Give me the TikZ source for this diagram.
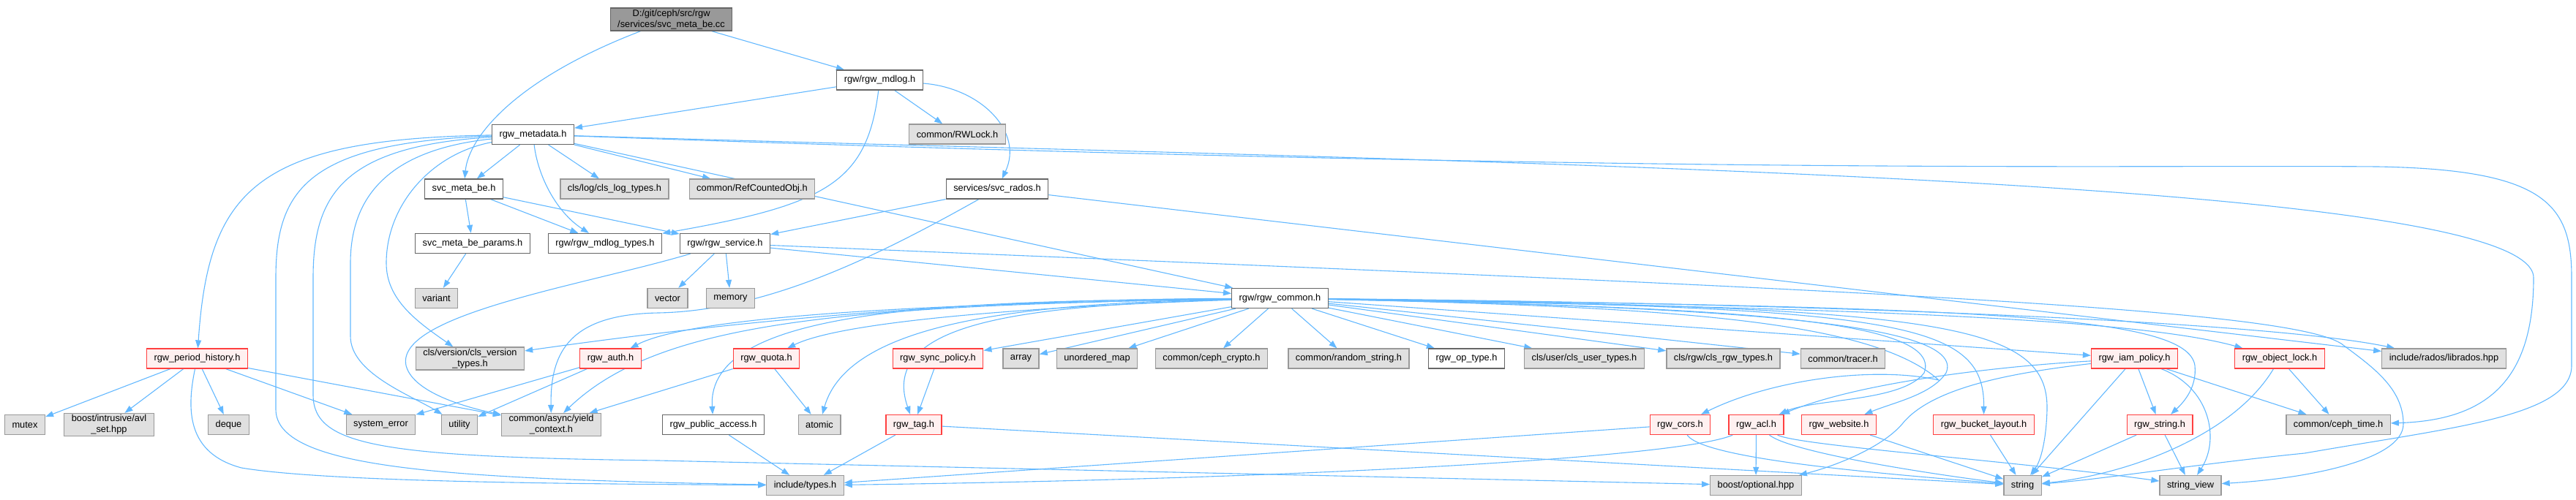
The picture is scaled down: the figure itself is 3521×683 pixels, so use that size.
\documentclass[tikz,border=0pt]{standalone}
\usepackage{fontspec}
\setmainfont{Liberation Sans}
\usepackage{tikz}
\usetikzlibrary{arrows.meta,backgrounds}
\definecolor{edgeblue}{RGB}{99,184,255}
\definecolor{fileline}{RGB}{102,102,102}
\definecolor{sysline}{RGB}{153,153,153}
\definecolor{sysfill}{RGB}{224,224,224}
\definecolor{redline}{RGB}{255,64,64}
\definecolor{redfill}{RGB}{255,240,240}
\definecolor{rootfill}{RGB}{153,153,153}
\tikzset{
  filebox/.style={draw=fileline,fill=white,line width=1.3pt,inner xsep=10pt,inner ysep=2pt,
    minimum height=27pt,align=center,font=\fontsize{12.8}{15}\selectfont},
  sysbox/.style={filebox,draw=sysline,fill=sysfill},
  redbox/.style={filebox,draw=redline,fill=redfill},
  rootbox/.style={filebox,fill=rootfill},
  dep/.style={draw=edgeblue,line width=1.1pt,-{Triangle[length=11pt,width=8pt]}}
}

\begin{document}
\begin{tikzpicture}[x=1pt,y=-1pt]
    \useasboundingbox (0,0) rectangle (3521,683);
    % files
    \node[rootbox] (root) at (917.5,26.5) {D:/git/ceph/src/rgw\\/services/svc\_meta\_be.cc};
    \node[filebox] (mdlog) at (1202.5,109.5) {rgw/rgw\_mdlog.h};
    \node[filebox] (metadata) at (728.5,184) {rgw\_metadata.h};
    \node[sysbox] (rwlock) at (1308.5,183.5) {common/RWLock.h};
    \node[filebox] (svcmetabe) at (634,258.5) {svc\_meta\_be.h};
    \node[sysbox] (clslogtypes) at (840,258.5) {cls/log/cls\_log\_types.h};
    \node[sysbox] (refcounted) at (1028,258.5) {common/RefCountedObj.h};
    \node[filebox] (svcrados) at (1363,258.5) {services/svc\_rados.h};
    \node[filebox] (svcparams) at (646,333) {svc\_meta\_be\_params.h};
    \node[filebox] (mdlogtypes) at (827,333) {rgw/rgw\_mdlog\_types.h};
    \node[filebox] (rgwservice) at (991,333) {rgw/rgw\_service.h};
    \node[sysbox] (variant) at (596.5,408) {variant};
    \node[sysbox] (vector) at (912.5,408) {vector};
    \node[sysbox] (memory) at (998.5,408) {memory};
    \node[filebox] (rgwcommon) at (1749.5,408) {rgw/rgw\_common.h};
    \node[redbox] (periodhistory) at (269.5,490.5) {rgw\_period\_history.h};
    \node[sysbox] (clsversion) at (642.5,490.5) {cls/version/cls\_version\\\_types.h};
    \node[redbox] (rgwauth) at (834.5,490.5) {rgw\_auth.h};
    \node[redbox] (rgwquota) at (1047.5,490.5) {rgw\_quota.h};
    \node[redbox] (syncpolicy) at (1282,490.5) {rgw\_sync\_policy.h};
    \node[sysbox] (array) at (1395.5,490.5) {array};
    \node[sysbox] (unorderedmap) at (1499.5,490.5) {unordered\_map};
    \node[sysbox] (cephcrypto) at (1656,490.5) {common/ceph\_crypto.h};
    \node[sysbox] (randomstring) at (1843.5,490.5) {common/random\_string.h};
    \node[filebox] (optype) at (2004.5,490.5) {rgw\_op\_type.h};
    \node[sysbox] (clsusertypes) at (2165.5,490.5) {cls/user/cls\_user\_types.h};
    \node[sysbox] (clsrgwtypes) at (2355.5,490.5) {cls/rgw/cls\_rgw\_types.h};
    \node[sysbox] (tracer) at (2519,490.5) {common/tracer.h};
    \node[redbox] (iampolicy) at (2917.5,490.5) {rgw\_iam\_policy.h};
    \node[redbox] (objectlock) at (3116,490.5) {rgw\_object\_lock.h};
    \node[sysbox] (librados) at (3340.5,490.5) {include/rados/librados.hpp};
    \node[sysbox] (mutex) at (34,581) {mutex};
    \node[sysbox] (avlset) at (149,581) {boost/intrusive/avl\\\_set.hpp};
    \node[sysbox] (deque) at (312.5,581) {deque};
    \node[sysbox] (systemerror) at (520.5,581) {system\_error};
    \node[sysbox] (utility) at (628,581) {utility};
    \node[sysbox] (yieldcontext) at (753.5,581) {common/async/yield\\\_context.h};
    \node[filebox] (publicaccess) at (975,581) {rgw\_public\_access.h};
    \node[sysbox] (atomic) at (1120,581) {atomic};
    \node[redbox] (rgwtag) at (1249,581) {rgw\_tag.h};
    \node[redbox] (rgwcors) at (2296.5,581) {rgw\_cors.h};
    \node[redbox] (rgwacl) at (2400.5,581) {rgw\_acl.h};
    \node[redbox] (rgwwebsite) at (2513.5,581) {rgw\_website.h};
    \node[redbox] (bucketlayout) at (2711.5,581) {rgw\_bucket\_layout.h};
    \node[redbox] (rgwstring) at (2952,581) {rgw\_string.h};
    \node[sysbox] (cephtime) at (3196,581) {common/ceph\_time.h};
    \node[sysbox] (includetypes) at (1100.5,664) {include/types.h};
    \node[sysbox] (boostoptional) at (2400,664) {boost/optional.hpp};
    \node[sysbox] (string) at (2764.5,664) {string};
    \node[sysbox] (stringview) at (2994,664) {string\_view};

    \begin{scope}[on background layer]
    % source file and rgw_mdlog.h
    \draw[dep] (root) .. controls (700,110) and (640,190) .. (svcmetabe);
    \draw[dep] (root) -- (mdlog);
    \path (mdlog) edge[dep] (metadata) edge[dep] (rwlock);
    \draw[dep] (mdlog) .. controls (1340,120) and (1400,180) .. (svcrados);
    \draw[dep] (mdlog) .. controls (1185,250) and (1130,280) .. (mdlogtypes);

    % rgw_metadata.h
    \path (metadata) edge[dep] (svcmetabe) edge[dep] (clslogtypes) edge[dep] (refcounted) edge[dep] (rgwcommon);
    \draw[dep] (metadata) .. controls (735,240) and (760,290) .. (mdlogtypes);
    \draw[dep] (metadata) .. controls (350,190) and (285,260) .. (periodhistory);
    \draw[dep] (metadata) .. controls (420,195) and (377,260) .. (377,380) -- (377,560)
      .. controls (377,640) and (600,655) .. (includetypes);
    \draw[dep] (metadata) .. controls (470,200) and (428,265) .. (428,380) -- (428,540)
      .. controls (428,610) and (520,625) .. (900,630) -- (boostoptional);
    \draw[dep] (metadata) .. controls (530,205) and (479,270) .. (479,360) -- (479,460)
      .. controls (479,510) and (560,540) .. (utility);
    \draw[dep] (metadata) .. controls (590,210) and (528,280) .. (528,360)
      .. controls (528,410) and (570,440) .. (clsversion);
    \draw[dep] (metadata) .. controls (2000,222) and (3463,240) .. (3463,380)
      .. controls (3463,520) and (3400,575) .. (cephtime);
    \draw[dep] (metadata) .. controls (2300,240) and (2900,225) .. (3250,228)
      .. controls (3480,232) and (3515,280) .. (3515,380) -- (3515,500)
      .. controls (3515,570) and (3350,585) .. (3150,620)
      .. controls (3000,635) and (2880,655) .. (string);

    % svc_meta_be.h, svc_rados.h, rgw_service.h
    \path (svcmetabe) edge[dep] (svcparams) edge[dep] (mdlogtypes) edge[dep] (rgwservice);
    \path (svcparams) edge[dep] (variant);
    \path (svcrados) edge[dep] (rgwservice) edge[dep] (librados);
    \draw[dep] (svcrados) .. controls (1200,350) and (1050,425) .. (900,428)
      .. controls (780,430) and (752,480) .. (yieldcontext);
    \path (rgwservice) edge[dep] (vector) edge[dep] (memory) edge[dep] (rgwcommon);
    \draw[dep] (rgwservice) .. controls (800,390) and (540,430) .. (555,500)
      .. controls (565,540) and (650,560) .. (yieldcontext);
    \draw[dep] (rgwservice) .. controls (2500,395) and (3120,420) .. (3200,470)
      .. controls (3240,500) and (3285,530) .. (3285,580)
      .. controls (3285,630) and (3150,655) .. (stringview);

    % rgw_common.h
    \draw[dep] (rgwcommon) .. controls (1300,415) and (950,430) .. (rgwauth);
    \draw[dep] (rgwcommon) .. controls (1300,410) and (1000,440) .. (clsversion);
    \draw[dep] (rgwcommon) .. controls (1150,418) and (900,440) .. (yieldcontext);
    \draw[dep] (rgwcommon) .. controls (1400,420) and (1150,440) .. (rgwquota);
    \draw[dep] (rgwcommon) .. controls (1300,412) and (965,420) .. (publicaccess);
    \draw[dep] (rgwcommon) .. controls (1400,415) and (1160,440) .. (atomic);
    \draw[dep] (rgwcommon) .. controls (1400,418) and (1200,440) .. (rgwtag);
    \path (rgwcommon) edge[dep] (syncpolicy) edge[dep] (array) edge[dep] (unorderedmap)
      edge[dep] (cephcrypto) edge[dep] (randomstring) edge[dep] (optype)
      edge[dep] (clsusertypes) edge[dep] (clsrgwtypes) edge[dep] (tracer) edge[dep] (iampolicy);
    \draw[dep] (rgwcommon) .. controls (2400,420) and (2900,430) .. (objectlock);
    \draw[dep] (rgwcommon) .. controls (2500,415) and (3100,440) .. (librados);
    \draw[dep] (rgwcommon) .. controls (2300,420) and (2560,440) .. (2650,520)
      .. controls (2560,500) and (2420,520) .. (rgwcors);
    \draw[dep] (rgwcommon) .. controls (2300,420) and (2660,430) .. (2630,510)
      .. controls (2600,550) and (2480,545) .. (rgwacl);
    \draw[dep] (rgwcommon) .. controls (2350,420) and (2690,440) .. (2660,510)
      .. controls (2640,540) and (2590,550) .. (rgwwebsite);
    \draw[dep] (rgwcommon) .. controls (2600,420) and (2712,440) .. (bucketlayout);
    \draw[dep] (rgwcommon) .. controls (2700,420) and (2990,430) .. (3000,500)
      .. controls (3003,530) and (2985,550) .. (rgwstring);
    \draw[dep] (rgwcommon) .. controls (2650,420) and (2800,440) .. (2798,560)
      .. controls (2797,600) and (2790,630) .. (string);

    % lower headers
    \path (periodhistory) edge[dep] (mutex) edge[dep] (avlset) edge[dep] (deque)
      edge[dep] (systemerror) edge[dep] (yieldcontext);
    \draw[dep] (periodhistory) .. controls (255,560) and (255,620) .. (330,640)
      .. controls (450,660) and (800,662) .. (includetypes);
    \path (rgwauth) edge[dep] (systemerror) edge[dep] (utility);
    \path (rgwquota) edge[dep] (atomic) edge[dep] (yieldcontext);
    \path (syncpolicy) edge[dep] (rgwtag);
    \path (publicaccess) edge[dep] (includetypes);
    \path (rgwtag) edge[dep] (includetypes) edge[dep] (string);
    \path (rgwcors) edge[dep] (includetypes);
    \draw[dep] (rgwcors) .. controls (2330,630) and (2600,650) .. (string);
    \draw[dep] (rgwacl) .. controls (2300,625) and (1800,655) .. (includetypes);
    \path (rgwacl) edge[dep] (boostoptional);
    \draw[dep] (rgwacl) .. controls (2450,620) and (2650,650) .. (string);
    \draw[dep] (rgwacl) .. controls (2460,610) and (2750,630) .. (stringview);
    \path (rgwwebsite) edge[dep] (string);
    \path (bucketlayout) edge[dep] (string);
    \path (iampolicy) edge[dep] (string) edge[dep] (rgwstring) edge[dep] (cephtime);
    \draw[dep] (iampolicy) .. controls (3020,530) and (3035,600) .. (stringview);
    \draw[dep] (iampolicy) .. controls (2750,510) and (2640,530) .. (2600,580)
      .. controls (2570,615) and (2500,640) .. (boostoptional);
    \draw[dep] (iampolicy) .. controls (2750,500) and (2550,520) .. (rgwacl);
    \path (objectlock) edge[dep] (cephtime);
    \draw[dep] (objectlock) .. controls (3050,600) and (2900,650) .. (string);
    \path (rgwstring) edge[dep] (string) edge[dep] (stringview);
    \end{scope}
  \end{tikzpicture}
\end{document}
